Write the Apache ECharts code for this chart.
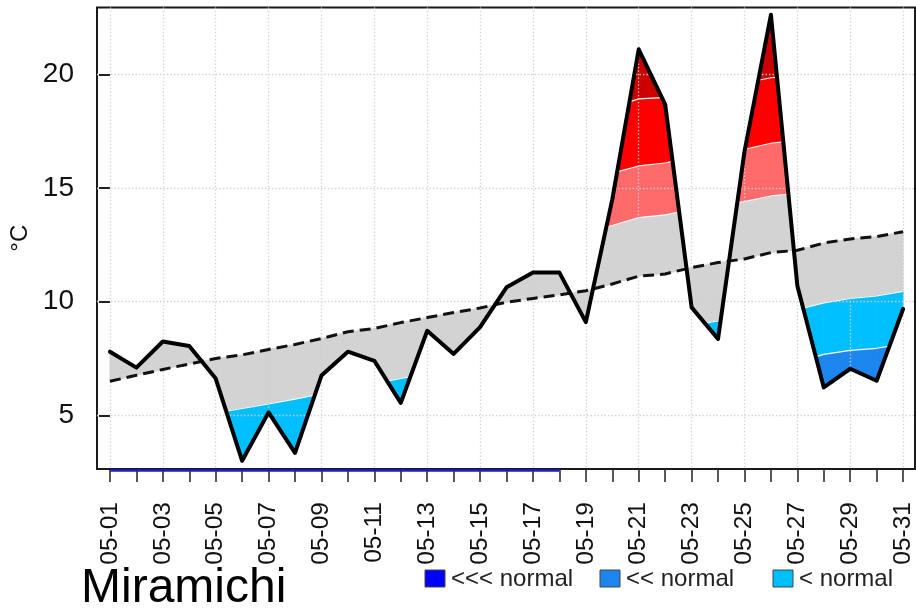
<!DOCTYPE html>
<html><head><meta charset="utf-8">
<script src="https://cdn.jsdelivr.net/npm/echarts@6/dist/echarts.min.js"></script>
<style>html,body{margin:0;padding:0;background:#fff}#c{width:916px;height:613px}</style>
</head><body><div id="c"></div>
<script>
// ---------------- data ----------------
const days = ['05-01','05-02','05-03','05-04','05-05','05-06','05-07','05-08','05-09','05-10',
  '05-11','05-12','05-13','05-14','05-15','05-16','05-17','05-18','05-19','05-20',
  '05-21','05-22','05-23','05-24','05-25','05-26','05-27','05-28','05-29','05-30','05-31'];
const observed = [7.8, 7.1, 8.25, 8.05, 6.62, 3.0, 5.13, 3.35, 6.75, 7.8,
  7.4, 5.55, 8.72, 7.7, 8.88, 10.63, 11.28, 11.28, 9.1, 14.5,
  21.1, 18.68, 9.75, 8.36, 16.6, 22.62, 10.7, 6.23, 7.05, 6.52, 9.68];
const normal = [6.50, 6.76, 7.02, 7.26, 7.50, 7.66, 7.90, 8.12, 8.38, 8.68,
  8.82, 9.08, 9.30, 9.52, 9.72, 9.98, 10.14, 10.30, 10.48, 10.78,
  11.12, 11.22, 11.50, 11.72, 11.88, 12.16, 12.26, 12.58, 12.76, 12.86, 13.08];
const above1 = [9.0, 9.3, 9.55, 9.8, 10.05, 10.2, 10.45, 10.65, 10.95, 11.25,
  11.35, 11.6, 11.85, 12.05, 12.25, 12.5, 12.65, 12.8, 13.0, 13.35,
  13.7, 13.82, 14.05, 14.25, 14.4, 14.65, 14.75, 15.1, 15.3, 15.4, 15.6];
const above2 = [11.35, 11.6, 11.85, 12.1, 12.35, 12.5, 12.75, 12.95, 13.2, 13.5,
  13.65, 13.9, 14.15, 14.35, 14.55, 14.85, 15.0, 15.15, 15.35, 15.65,
  15.97, 16.1, 16.35, 16.55, 16.7, 16.97, 17.1, 17.4, 17.6, 17.7, 17.9];
const above3 = [14.3, 14.55, 14.8, 15.0, 15.25, 15.4, 15.65, 15.85, 16.1, 16.4,
  16.55, 16.8, 17.05, 17.25, 17.45, 17.75, 17.9, 18.05, 18.25, 18.55,
  18.92, 18.98, 19.25, 19.45, 19.62, 19.85, 19.98, 20.3, 20.5, 20.6, 20.8];
const below1 = [4.1, 4.35, 4.6, 4.85, 5.1, 5.3, 5.5, 5.71, 5.95, 6.25,
  6.4, 6.62, 6.85, 7.05, 7.25, 7.5, 7.65, 7.8, 8.0, 8.3,
  8.6, 8.7, 8.95, 9.15, 9.3, 9.55, 9.65, 9.95, 10.14, 10.25, 10.45];
const below2 = [1.6, 1.85, 2.1, 2.35, 2.5, 2.6, 2.9, 3.05, 3.4, 3.75,
  3.9, 4.15, 4.4, 4.6, 4.8, 5.05, 5.2, 5.4, 5.55, 5.85,
  6.2, 6.3, 6.6, 6.8, 6.95, 7.25, 7.35, 7.68, 7.86, 7.95, 8.15];
const below3 = [-0.8, -0.55, -0.3, -0.05, 0.2, 0.35, 0.6, 0.8, 1.05, 1.35,
  1.5, 1.75, 2.0, 2.2, 2.4, 2.65, 2.8, 3.0, 3.15, 3.45,
  3.8, 3.9, 4.2, 4.4, 4.55, 4.85, 4.95, 5.25, 5.45, 5.55, 5.75];
const yTicks = [5, 10, 15, 20];
const rugDays = ['05-01', '05-18'];
const legendLabels = ['<<< normal', '<< normal', '< normal'];
const stationName = 'Miramichi';
const unitLabel = '°C';

// ---------------- style ----------------
const C = {gray:'#d3d3d3', lred:'#ff6a6a', red:'#ff0000', dred:'#cd0000',
           lblue:'#00bfff', mblue:'#1c86ee', dblue:'#0000ff'};
const legendColors = [C.dblue, C.mblue, C.lblue];
const Y_MIN = 2.64, Y_MAX = 22.94;
const FONT = '"Liberation Sans", Arial, sans-serif';

function clipPoly(poly, B, keepAbove) {
  const f = p => keepAbove ? p[1] - B(p[0]) : B(p[0]) - p[1];
  const out = [];
  for (let j = 0; j < poly.length; j++) {
    const P = poly[j], Q = poly[(j + 1) % poly.length];
    const fp = f(P), fq = f(Q);
    if (fp >= 0) out.push(P);
    if ((fp >= 0) !== (fq >= 0)) {
      const s = fp / (fp - fq);
      out.push([P[0] + (Q[0] - P[0]) * s, P[1] + (Q[1] - P[1]) * s]);
    }
  }
  return out;
}
function posInterval(g, a, b) {
  const ga = g(a), gb = g(b);
  if (ga >= 0 && gb >= 0) return [a, b];
  if (ga < 0 && gb < 0) return [a, a];
  const tc = a + (b - a) * ga / (ga - gb);
  return ga >= 0 ? [a, tc] : [tc, b];
}
function renderBands(params, api) {
  const polys = [], lines = [];
  for (let i = 0; i < observed.length - 1; i++) {
    const L = arr => t => arr[i] + (arr[i + 1] - arr[i]) * (t - i);
    const O = L(observed), N = L(normal);
    const d0 = observed[i] - normal[i], d1 = observed[i + 1] - normal[i + 1];
    const cuts = [i];
    if (d0 * d1 < 0) cuts.push(i + d0 / (d0 - d1));
    cuts.push(i + 1);
    for (let k = 0; k < cuts.length - 1; k++) {
      const a = cuts[k], b = cuts[k + 1], m = (a + b) / 2;
      const above = O(m) > N(m);
      const poly = [[a, N(a)], [b, N(b)], [b, O(b)], [a, O(a)]];
      const bands = above
        ? [[null, above1, C.gray], [above1, above2, C.lred], [above2, above3, C.red], [above3, null, C.dred]]
        : [[below1, null, C.gray], [below2, below1, C.lblue], [below3, below2, C.mblue], [null, below3, C.dblue]];
      for (const [lo, hi, col] of bands) {
        let p = poly;
        if (lo) p = clipPoly(p, L(lo), true);
        if (hi && p.length) p = clipPoly(p, L(hi), false);
        if (p.length >= 3) {
          polys.push({type: 'polygon', shape: {points: p.map(q => api.coord(q))},
            style: {fill: col, stroke: col, lineWidth: 0.8}});
        }
      }
      const bounds = above ? [above1, above2, above3] : [below1, below2, below3];
      for (const arr of bounds) {
        const B = L(arr);
        const g = t => above ? O(t) - B(t) : B(t) - O(t);
        const h = t => above ? B(t) - N(t) : N(t) - B(t);
        const r1 = posInterval(g, a, b), r2 = posInterval(h, a, b);
        const s = Math.max(r1[0], r2[0]), e = Math.min(r1[1], r2[1]);
        if (e - s > 1e-6) {
          const p1 = api.coord([s, B(s)]), p2 = api.coord([e, B(e)]);
          lines.push({type: 'line', shape: {x1: p1[0], y1: p1[1], x2: p2[0], y2: p2[1]},
            style: {stroke: '#ffffff', lineWidth: 1.2}});
        }
      }
    }
  }
  return {type: 'group', children: polys.concat(lines)};
}

const allIdx = days.map((d, i) => i);
const labelIdx = allIdx.filter(i => i % 2 === 0);

const chart = echarts.init(document.getElementById('c'), null, {renderer: 'canvas'});
chart.setOption({
  animation: false,
  backgroundColor: '#ffffff',
  grid: {left: 97, right: 1, top: 7.5, bottom: 144, show: true, borderColor: '#1a1a1a', borderWidth: 2,
         backgroundColor: 'transparent', containLabel: false, outerBoundsMode: 'none'},
  xAxis: [{
    type: 'value', min: -0.49, max: 30.45, z: 2,
    axisLine: {show: false},
    axisTick: {show: true, inside: false, length: 13, customValues: allIdx,
               lineStyle: {color: '#222', width: 1.5}},
    axisLabel: {show: true, customValues: labelIdx, rotate: 90, margin: 33,
                formatter: v => days[Math.round(v)] || '',
                fontSize: 24.5, fontFamily: FONT, color: '#111'},
    splitLine: {show: false}
  }, {
    type: 'value', min: -0.49, max: 30.45, z: 2, position: 'bottom',
    axisLine: {show: false},
    axisTick: {show: false, customValues: labelIdx},
    axisLabel: {show: false},
    splitLine: {show: true, lineStyle: {color: '#cfcfcf', width: 1.3, type: [1.3, 2.2]}}
  }],
  yAxis: {
    type: 'value', min: Y_MIN, max: Y_MAX, z: 2,
    name: unitLabel, nameLocation: 'middle', nameRotate: 90, nameGap: 64,
    nameTextStyle: {fontSize: 24, fontFamily: FONT, color: '#111'},
    axisLine: {show: false},
    axisTick: {show: true, inside: false, length: 11, customValues: yTicks,
               lineStyle: {color: '#222', width: 2}},
    axisLabel: {customValues: yTicks, margin: 23, fontSize: 28, fontFamily: FONT, color: '#111'},
    splitLine: {show: true, lineStyle: {color: '#cfcfcf', width: 1.3, type: [1.3, 2.2]}}
  },
  series: [
    {type: 'custom', name: 'bands', renderItem: renderBands, data: [[0, 0]], z: 1, silent: true,
     xAxisIndex: 0, yAxisIndex: 0},
    {type: 'line', name: 'normal', data: normal.map((v, i) => [i, v]), symbol: 'none', z: 3,
     lineStyle: {color: '#111', width: 3, type: [11, 6]}},
    {type: 'line', name: 'observed', data: observed.map((v, i) => [i, v]), symbol: 'none', z: 4,
     lineStyle: {color: '#000', width: 4, join: 'round', cap: 'round'}},
    {type: 'line', name: 'rug', data: rugDays.map(d => [days.indexOf(d), Y_MIN - 0.07]), symbol: 'none',
     z: 4, clip: false, lineStyle: {color: '#1c1ccc', width: 2.5}}
  ],
  graphic: [
    {type: 'text', left: 81, top: 565, style: {text: stationName, font: '48px ' + FONT, fill: '#000'}},
    ...legendLabels.map((t, k) => ({type: 'rect', shape: {x: [425, 600, 773][k], y: 570, width: 20, height: 17},
      style: {fill: legendColors[k], stroke: '#444', lineWidth: 1}})),
    ...legendLabels.map((t, k) => ({type: 'text', x: [451, 626, 799][k], y: 579,
      style: {text: t, font: '24px ' + FONT, fill: '#222', verticalAlign: 'middle', align: 'left'}}))
  ]
});
</script></body></html>
